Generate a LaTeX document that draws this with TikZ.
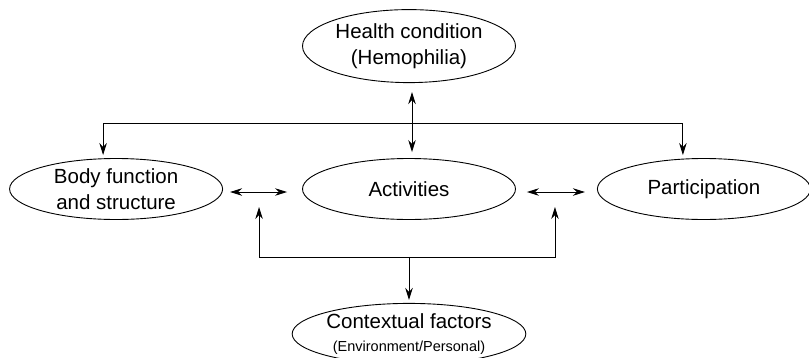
\documentclass[tikz,border=0pt]{standalone}
\usepackage{fontspec}
\setmainfont{Liberation Sans}
\usetikzlibrary{positioning,calc,arrows.meta,shapes.geometric}
\tikzset{bubble/.style={ellipse, draw, line width=0.9pt, inner sep=0pt, align=center, minimum width=213pt, minimum height=61pt, font=\fontsize{20.5}{26}\selectfont}}
\tikzset{arr/.style={draw, line width=0.9pt, -{Stealth[length=12pt,width=7.5pt]}}}
\tikzset{arr2/.style={draw, line width=0.9pt, {Stealth[length=12pt,width=7.5pt]}-{Stealth[length=12pt,width=7.5pt]}}}

\begin{document}
\begin{tikzpicture}[x=1pt,y=-1pt]
			\useasboundingbox (0,0) rectangle (809,357);
			\node[bubble] (act) at (409,189) {Activities};
			\node[bubble,left=79pt of act] (body) {Body function\\and structure};
			\node[bubble,right=81pt of act] (part) {Participation};
			\node[bubble,above=75pt of act,minimum height=73pt] (hc) {Health condition\\(Hemophilia)};
			\node[bubble,below=83pt of act] (cf) {Contextual factors\\[-3pt]{\fontsize{14.5}{16}\selectfont (Environment/Personal)}};
			%
			\coordinate (tb) at ($(hc.south)+(0,40)$);
			\coordinate (bb) at ($(cf.north)+(0,-46)$);
			\coordinate (lb) at ($(body.east)+(36,18)$);
			\coordinate (rb) at ($(part.west)+(-42,18)$);
			%
			\draw[arr2] ($(act.north)+(3,-6)$) -- ($(hc.south)+(3,9)$);
			\draw[arr2] ($(body.north)+(-13,-3)$) |- (tb) -| ($(part.north)+(-21,-3)$);
			\draw[arr2] ($(body.east)+(7,3)$) -- ($(act.west)+(-15,3)$);
			\draw[arr2] ($(act.east)+(11,3)$) -- ($(part.west)+(-12,3)$);
			%
			\draw[arr2] (lb) |- (bb) -| (rb);
			\draw[arr] (bb) -- ($(cf.north)+(0,-3)$);
		\end{tikzpicture}
\end{document}
